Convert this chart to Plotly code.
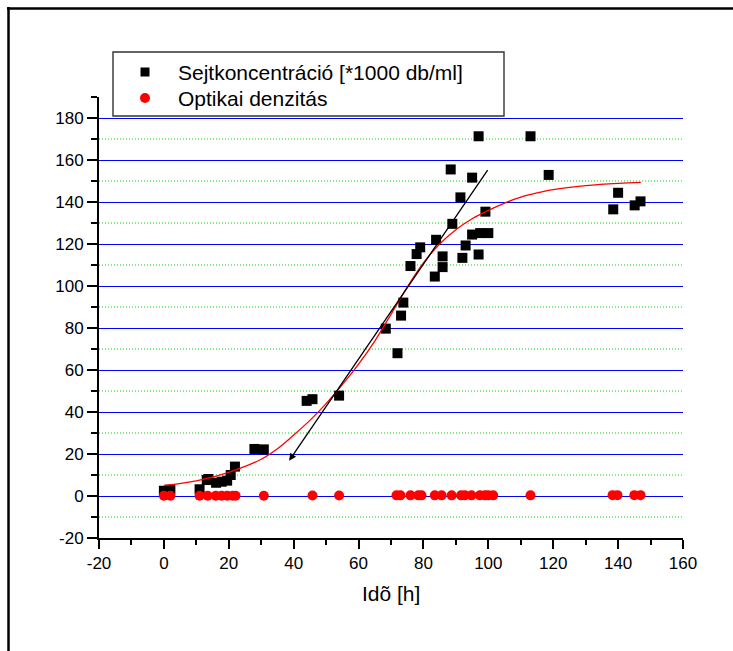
import plotly.graph_objects as go

# ---------------- data ----------------
sejt_time = [0, 2, 11, 13.2, 13.7, 16.1, 17.8, 19.5, 20.6, 21.9, 27.9, 30.8, 44.0, 45.8, 54.0,
             68.4, 72.0, 73.1, 73.8, 76.0, 77.9, 79.0, 83.5, 83.9, 85.9, 85.9, 88.4, 88.9,
             91.4, 92.0, 93.0, 95.0, 95.0, 97.0, 97.0, 97.5, 99.1, 100.0, 113.0, 118.6,
             138.5, 140.0, 145.1, 146.9]
sejt_conc = [2.5, 3.0, 3.2, 7.6, 8.1, 6.3, 6.8, 7.3, 10.0, 14.0, 22.4, 22.2, 45.3, 46.1, 47.8,
             79.7, 68.0, 85.9, 92.1, 109.5, 115.2, 118.4, 104.5, 122.0, 114.1, 109.0, 155.5, 129.6,
             142.2, 113.4, 119.3, 151.6, 124.5, 171.3, 115.0, 125.2, 135.4, 125.2, 171.3, 152.9,
             136.5, 144.4, 138.4, 140.3]

od_time = [0, 2, 11, 13.5, 16, 17.8, 19.5, 21.2, 22.1, 30.8, 45.8, 54.0, 71.7, 72.9, 76.0,
           78.4, 79.4, 83.5, 85.6, 88.7, 91.6, 92.8, 94.8, 97.4, 99.0, 100.0, 101.5, 113.0,
           138.3, 139.8, 145.0, 146.9]
od_value = [0.1, 0.1, 0.1, 0.1, 0.1, 0.1, 0.1, 0.1, 0.1, 0.1, 0.2, 0.2, 0.3, 0.3, 0.3,
            0.3, 0.3, 0.3, 0.3, 0.3, 0.3, 0.3, 0.3, 0.3, 0.3, 0.3, 0.3, 0.3,
            0.4, 0.4, 0.4, 0.4]

# red fitted curve
fit_time = [0, 10, 20, 30, 35, 40, 45, 50, 55, 60, 65, 70, 75, 80, 85, 90, 95, 100,
            105, 110, 115, 120, 130, 140, 147]
fit_value = [5.0, 7.2, 11.3, 17.5, 22.5, 29.0, 36.0, 44.0, 53.0, 62.8, 73.8, 86.5, 99.5,
             111.0, 120.0, 126.8, 132.0, 136.0, 139.5, 142.3, 144.3, 145.9, 147.8, 148.9, 149.3]

arrow_tail = (100.1, 155.9)
arrow_head = (38.6, 16.8)

x_ticks = [-20, 0, 20, 40, 60, 80, 100, 120, 140, 160]
y_ticks = [-20, 0, 20, 40, 60, 80, 100, 120, 140, 160, 180]
y_minor_grid = [-10, 10, 30, 50, 70, 90, 110, 130, 150, 170]

legend_names = ["Sejtkoncentráció [*1000 db/ml]", "Optikai denzitás"]
x_title = "Idõ [h]"

FONT = "Liberation Sans, Arial, sans-serif"

fig = go.Figure()

fig.add_trace(go.Scatter(
    x=sejt_time, y=sejt_conc, mode="markers", name=legend_names[0], showlegend=False,
    marker=dict(symbol="square", size=10, color="black", line=dict(width=0)),
))
fig.add_trace(go.Scatter(
    x=od_time, y=od_value, mode="markers", name=legend_names[1], showlegend=False,
    marker=dict(symbol="circle", size=10, color="#ff0000", line=dict(width=0)),
))
fig.add_trace(go.Scatter(
    x=fit_time, y=fit_value, mode="lines", showlegend=False,
    line=dict(color="#ff0000", width=1.3, shape="spline", smoothing=1.0),
))

fig.add_annotation(
    x=arrow_head[0], y=arrow_head[1], ax=arrow_tail[0], ay=arrow_tail[1],
    xref="x", yref="y", axref="x", ayref="y", text="",
    showarrow=True, arrowhead=2, arrowsize=1.1, arrowwidth=1.3, arrowcolor="black",
)

# green dotted minor grid lines (at the odd tens)
for yv in y_minor_grid:
    fig.add_shape(type="line", xref="paper", yref="y", x0=0, x1=1, y0=yv, y1=yv,
                  line=dict(color="rgb(0,220,0)", width=1, dash="1px,2px"), layer="below")

# figure pixel geometry helpers
L, R, T, B = 99, 50, 97, 113
W, H = 733, 651
PW, PH = W - L - R, H - T - B
def px(xp):
    return (xp - L) / PW
def py(yp):
    return (H - B - yp) / PH

# outer frame (open at right/bottom, as cropped in the reference)
fig.add_shape(type="line", xref="paper", yref="paper",
              x0=px(7), x1=px(733), y0=py(8.5), y1=py(8.5),
              line=dict(color="black", width=2.5), layer="above")
fig.add_shape(type="line", xref="paper", yref="paper",
              x0=px(8.5), x1=px(8.5), y0=py(7), y1=py(651),
              line=dict(color="black", width=2.5), layer="above")

# legend box
fig.add_shape(type="rect", xref="paper", yref="paper",
              x0=px(113), x1=px(504), y0=py(116), y1=py(52),
              line=dict(color="#333333", width=1.4), fillcolor="white", layer="above")
# legend symbols
fig.add_shape(type="rect", xref="paper", yref="paper",
              xsizemode="pixel", ysizemode="pixel", xanchor=px(145), yanchor=py(72),
              x0=-4.5, x1=4.5, y0=-4.5, y1=4.5,
              line=dict(width=0), fillcolor="black", layer="above")
fig.add_shape(type="circle", xref="paper", yref="paper",
              xsizemode="pixel", ysizemode="pixel", xanchor=px(145), yanchor=py(98),
              x0=-5, x1=5, y0=-5, y1=5,
              line=dict(width=0), fillcolor="#ff0000", layer="above")
for name, ypix in zip(legend_names, [72, 98]):
    fig.add_annotation(
        x=px(177), y=py(ypix), xref="paper", yref="paper",
        xanchor="left", yanchor="middle", showarrow=False, text=name, borderpad=0,
        font=dict(family=FONT, size=21, color="black"),
    )

# x-axis title
fig.add_annotation(
    x=px(391), y=py(593), xref="paper", yref="paper",
    xanchor="center", yanchor="middle", showarrow=False, text=x_title, borderpad=0,
    font=dict(family=FONT, size=21, color="black"),
)

fig.update_layout(
    width=W, height=H,
    margin=dict(l=L, r=R, t=T, b=B, autoexpand=False),
    paper_bgcolor="white", plot_bgcolor="white",
    font=dict(family=FONT, color="black"),
    showlegend=False,
    xaxis=dict(
        range=[-20, 160], tickmode="array", tickvals=x_ticks,
        ticktext=[str(v) for v in x_ticks],
        showgrid=False, zeroline=False,
        showline=True, linecolor="black", linewidth=2,
        ticks="outside", ticklen=9, tickwidth=2, tickcolor="black",
        tickfont=dict(family=FONT, size=17),
        minor=dict(dtick=10, tick0=0, ticks="outside", ticklen=5, tickwidth=2,
                   tickcolor="black", showgrid=False),
        automargin=False,
    ),
    yaxis=dict(
        range=[-20, 190], tickmode="array", tickvals=y_ticks,
        ticktext=[str(v) for v in y_ticks],
        showgrid=True, gridcolor="#0000ff", gridwidth=1.3,
        zeroline=False,
        showline=True, linecolor="black", linewidth=2,
        ticks="outside", ticklen=10, tickwidth=2, tickcolor="black",
        tickfont=dict(family=FONT, size=17), ticklabelstandoff=0,
        minor=dict(dtick=10, tick0=0, ticks="outside", ticklen=6, tickwidth=2,
                   tickcolor="black", showgrid=False),
        automargin=False,
    ),
)

fig.write_html("out.html")
